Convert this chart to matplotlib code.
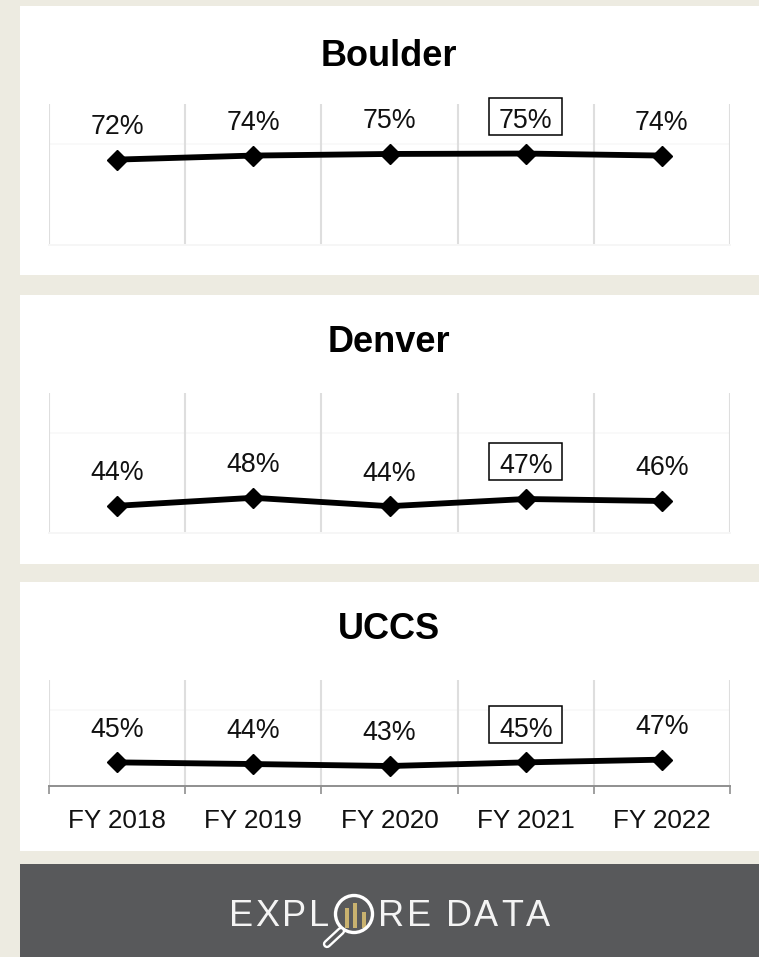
#!/usr/bin/env python3
import matplotlib
matplotlib.use('Agg')
import matplotlib.pyplot as plt
from matplotlib.patches import Rectangle, Circle
from matplotlib.lines import Line2D
from matplotlib.transforms import IdentityTransform

W, H = 759, 957

years = ['FY 2018', 'FY 2019', 'FY 2020', 'FY 2021', 'FY 2022']
campuses = ['Boulder', 'Denver', 'UCCS']
boulder = [72.4, 74.4, 75.2, 75.4, 74.4]
denver = [43.6, 47.6, 43.4, 47.0, 46.0]
uccs = [45.6, 44.5, 43.2, 45.6, 47.4]
boulder_labels = ['72%', '74%', '75%', '75%', '74%']
denver_labels = ['44%', '48%', '44%', '47%', '46%']
uccs_labels = ['45%', '44%', '43%', '45%', '47%']

series = [boulder, denver, uccs]
labels = [boulder_labels, denver_labels, uccs_labels]

plt.rcParams['font.family'] = ['Liberation Sans', 'DejaVu Sans']

BG = '#edebe1'
DARK = '#58595b'
GOLD = '#c9b26f'

fig = plt.figure(figsize=(W / 100, H / 100), dpi=100, facecolor=BG)


def px_rect(x0, y0, x1, y1):
    # pixel box from the top left, to figure fractions
    return [x0 / W, 1 - y1 / H, (x1 - x0) / W, (y1 - y0) / H]


# the white cards and the dark band
cards = [(20, 6, 759, 275), (20, 295, 759, 564), (20, 582, 759, 851)]
for c in cards:
    b = px_rect(*c)
    fig.add_artist(Rectangle((b[0], b[1]), b[2], b[3], transform=fig.transFigure, fc='white', ec='none', zorder=-5))
b = px_rect(20, 864, 759, 957)
fig.add_artist(Rectangle((b[0], b[1]), b[2], b[3], transform=fig.transFigure, fc=DARK, ec='none', zorder=-5))

# plot areas: top, bottom in pixels
areas = [(104, 245), (393, 533), (680, 786)]
title_y = [56.5, 342.5, 629.5]

for i in range(3):
    top, bottom = areas[i]
    ax = fig.add_axes(px_rect(49, top, 730, bottom))
    ax.patch.set_alpha(0)
    ax.set_xlim(-0.5, 4.5)
    ax.set_ylim(30, 100)
    for s in ['top', 'left', 'right']:
        ax.spines[s].set_visible(False)
    last = i == 2
    ax.spines['bottom'].set_color('#8f8f8f' if last else '#f6f6f6')
    ax.spines['bottom'].set_linewidth(1.4)
    ax.set_yticks([80])
    ax.set_yticklabels([])
    ax.tick_params(axis='y', length=0)
    ax.grid(axis='y', color='#f8f8f8', lw=1.2)
    ax.set_axisbelow(True)
    for e in [-0.5, 0.5, 1.5, 2.5, 3.5, 4.5]:
        ax.axvline(e, color='#dedede', lw=1.5, zorder=1)
    ax.set_xticks([-0.5, 0.5, 1.5, 2.5, 3.5, 4.5])
    ax.set_xticklabels([])
    if last:
        ax.tick_params(axis='x', length=5.5, width=1.2, color='#8f8f8f')
        for j, y in enumerate(years):
            ax.annotate(y, (j, 0), xycoords=('data', 'axes fraction'), xytext=(0, -25), textcoords='offset points',
                        ha='center', va='center', fontsize=18.7, color='#111111')
    else:
        ax.tick_params(axis='x', length=0)
    ax.plot(range(5), series[i], color='black', lw=4.2, marker='D', ms=10.2, mec='black', zorder=3, clip_on=False)
    for j in range(5):
        if j == 3:
            # outlined box round the FY 2021 label, in display pixels
            px, py = ax.transData.transform((j, series[i][j]))
            ax.add_patch(Rectangle((px - 36.5, py + 19), 73, 37, transform=IdentityTransform(), fc='white',
                                   ec='black', lw=1.1, zorder=3.5, clip_on=False))
        ax.annotate(labels[i][j], (j, series[i][j]), xytext=(0, 23.5), textcoords='offset points',
                    ha='center', va='center', fontsize=19.3, color='#111111', zorder=4)
    fig.text(389 / W, 1 - title_y[i] / H, campuses[i], ha='center', va='center', fontsize=26,
             fontweight='bold', color='black')

# explore data button, spaced out letter by letter
word_left = ['E', 'X', 'P', 'L']
word_right = ['R', 'E', ' ', 'D', 'A', 'T', 'A']
renderer = fig.canvas.get_renderer()


def spaced(letters, x, track):
    for ch in letters:
        t = fig.text(x / W, 1 - 916 / H, ch, ha='left', va='center', fontsize=26, color='#f4f4f4')
        if ch == ' ':
            x += 10 + track
        else:
            x += t.get_window_extent(renderer).width + track


spaced(word_left, 229, 2.5)
spaced(word_right, 378, 2.5)

logo = fig.add_axes([0, 0, 1, 1])
logo.set_xlim(0, W)
logo.set_ylim(H, 0)
logo.axis('off')
logo.patch.set_alpha(0)
for x0, y0, x1 in [(345, 908, 349), (353, 903, 357), (362, 912, 366)]:
    logo.add_patch(Rectangle((x0, y0), x1 - x0, 928 - y0, fc=GOLD, ec='none'))
logo.add_patch(Circle((354, 914), 18.5, fc='none', ec='white', lw=2.4))
logo.add_line(Line2D([341, 327], [931, 944], color='white', lw=6, solid_capstyle='round'))
logo.add_line(Line2D([341, 327], [931, 944], color=DARK, lw=2.6, solid_capstyle='round'))

fig.savefig('out.png', dpi=100, facecolor=BG)
